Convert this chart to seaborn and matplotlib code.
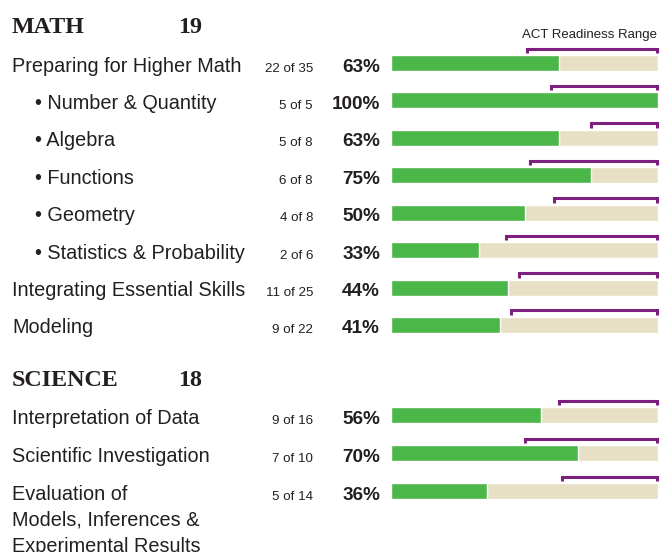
import matplotlib
matplotlib.use("Agg")
import matplotlib.pyplot as plt
import matplotlib.transforms as mtrans
import seaborn as sns
import pandas as pd

# ---------------- data ----------------
math_title = "MATH"
math_score = 19
math_labels = ["Preparing for Higher Math", "• Number & Quantity", "• Algebra",
               "• Functions", "• Geometry", "• Statistics & Probability",
               "Integrating Essential Skills", "Modeling"]
math_correct = [22, 5, 5, 6, 4, 2, 11, 9]
math_total = [35, 5, 8, 8, 8, 6, 25, 22]
math_pct = [63, 100, 63, 75, 50, 33, 44, 41]
math_ready_start = [51, 60, 75, 52, 61, 43, 48, 45]

sci_title = "SCIENCE"
sci_score = 18
sci_labels = ["Interpretation of Data", "Scientific Investigation",
              "Evaluation of\nModels, Inferences &\nExperimental Results"]
sci_correct = [9, 7, 5]
sci_total = [16, 10, 14]
sci_pct = [56, 70, 36]
sci_ready_start = [63, 50, 64]

legend_text = "ACT Readiness Range"

# ---------------- style ----------------
W, H = 667, 552
GREEN = "#4BB748"
TAN = "#E8E0C4"
PURPLE = "#7E1F80"
TXT = "#231F20"
SANS = ["Liberation Sans", "DejaVu Sans"]
SERIF = ["Liberation Serif", "DejaVu Serif"]

sns.set_theme(style="white")
plt.rcParams["font.family"] = SANS

fig = plt.figure(figsize=(W / 100, H / 100), dpi=100)


def fx(px):
    return px / W


def fy(py):
    return 1 - py / H


def section(labels, correct, total, pct, ready, top_px, bottom_px, bar_h):
    n = len(labels)
    ax = fig.add_axes([fx(391), fy(bottom_px), fx(658) - fx(391),
                       (bottom_px - top_px) / H])
    df = pd.DataFrame({"row": [str(i) for i in range(n)],
                       "full": [100] * n, "pct": pct})
    sns.barplot(data=df, x="full", y="row", color=TAN, width=bar_h,
                saturation=1, ax=ax)
    sns.barplot(data=df, x="pct", y="row", color=GREEN, width=bar_h,
                saturation=1, ax=ax)
    ax.set_xlim(0, 100)
    ax.set_ylim(n - 0.5, -0.5)
    ax.axis("off")
    step = (bottom_px - top_px) / n
    base = 8.5 / step
    tr = mtrans.blended_transform_factory(fig.transFigure, ax.transData)
    for i in range(n):
        lines = labels[i].split("\n")
        for k, ln in enumerate(lines):
            ax.text(fx(12) if not ln.startswith("•") else fx(35),
                    i + base + k * 26.5 / step, ln, transform=tr,
                    ha="left", va="baseline", fontsize=14.3, color=TXT,
                    clip_on=False)
        ax.text(fx(313), i + base, f"{correct[i]} of {total[i]}", transform=tr,
                ha="right", va="baseline", fontsize=9.6, color=TXT)
        ax.text(fx(380), i + base, f"{pct[i]}%", transform=tr,
                ha="right", va="baseline", fontsize=13.6, fontweight="bold",
                color=TXT)
        y_line = i - 14.5 / step
        y_tick = i - 10.0 / step
        ax.plot([ready[i], ready[i], 99.6, 99.6], [y_tick, y_line, y_line, y_tick],
                color=PURPLE, lw=2.2, solid_joinstyle="miter",
                solid_capstyle="butt", clip_on=False)
    return ax


section(math_labels, math_correct, math_total, math_pct, math_ready_start,
        44.3, 343.7, 0.43)
section(sci_labels, sci_correct, sci_total, sci_pct, sci_ready_start,
        396, 510, 0.42)

# headers
fig.text(fx(12), fy(33), math_title, family=SERIF, fontweight="bold",
         fontsize=17.3, color=TXT, va="baseline")
fig.text(fx(178), fy(33), str(math_score), family=SERIF, fontweight="bold",
         fontsize=17.3, color=TXT, va="baseline")
fig.text(fx(12), fy(386), sci_title, family=SERIF, fontweight="bold",
         fontsize=17.3, color=TXT, va="baseline")
fig.text(fx(178), fy(386), str(sci_score), family=SERIF, fontweight="bold",
         fontsize=17.3, color=TXT, va="baseline")
fig.text(fx(657), fy(38), legend_text, fontsize=9.5, color=TXT,
         ha="right", va="baseline")

fig.savefig("out.png", dpi=100, facecolor="white")
